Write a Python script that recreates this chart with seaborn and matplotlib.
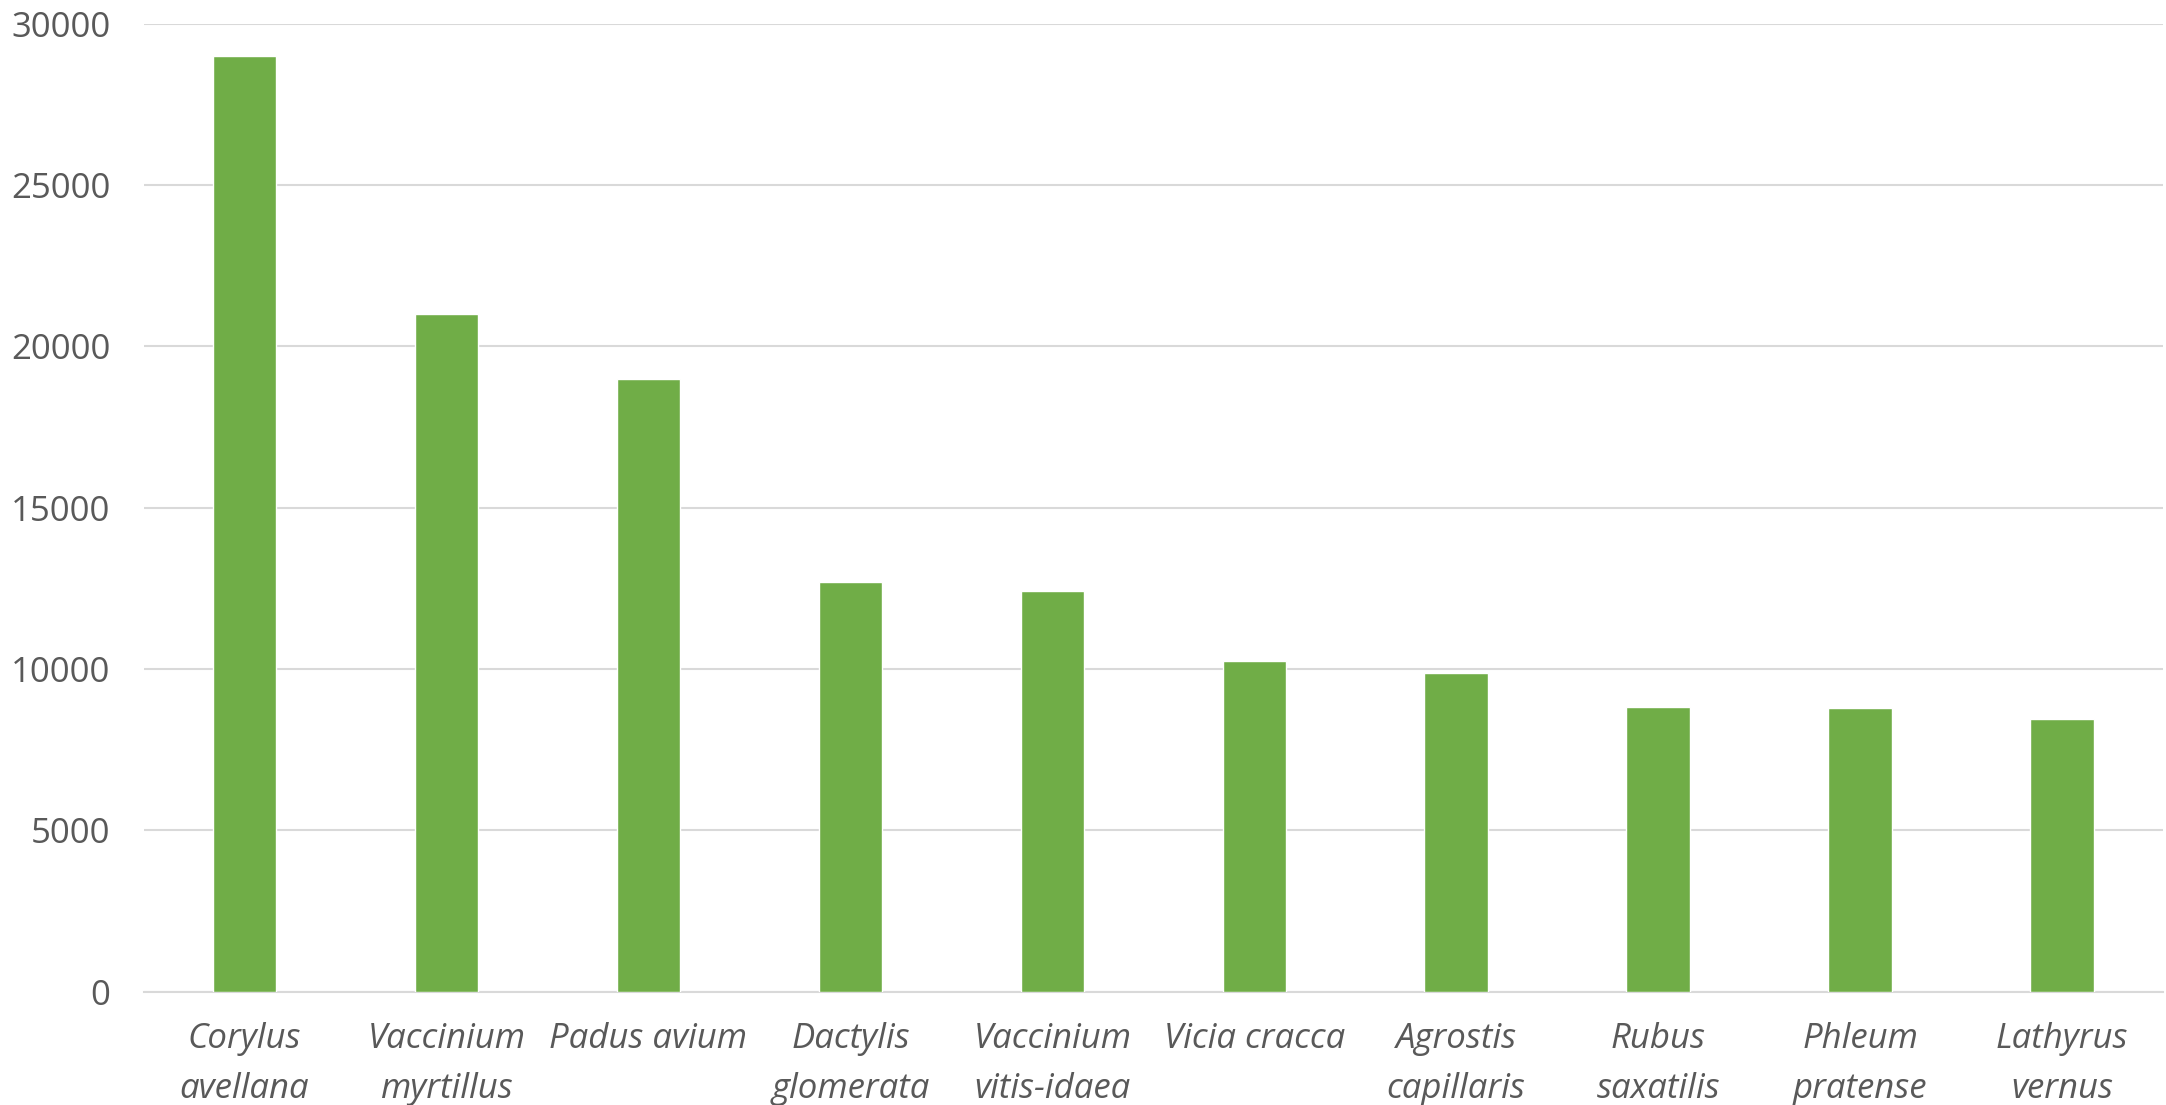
import matplotlib
matplotlib.use("Agg")
import matplotlib.pyplot as plt
import seaborn as sns
import pandas as pd

species = ["Corylus\navellana", "Vaccinium\nmyrtillus", "Padus avium", "Dactylis\nglomerata",
           "Vaccinium\nvitis-idaea", "Vicia cracca", "Agrostis\ncapillaris", "Rubus\nsaxatilis",
           "Phleum\npratense", "Lathyrus\nvernus"]
values = [29000, 21000, 19000, 12690, 12420, 10240, 9880, 8820, 8780, 8440]
yticks = [0, 5000, 10000, 15000, 20000, 25000, 30000]

sns.set_theme(style="white")
plt.rcParams['font.family'] = ['Open Sans', 'DejaVu Sans']

df = pd.DataFrame({"species": species, "value": values})

fig = plt.figure(figsize=(21.66, 11.05), dpi=100)
ax = fig.add_axes([0.0663, 0.1025, 0.9323, 0.8762])
sns.barplot(data=df, x="species", y="value", color="#70AD47", saturation=1,
            width=0.314, ax=ax, zorder=3)

ax.set_ylim(0, 30000)
ax.set_xlim(-0.5, len(species) - 0.5)
ax.set_yticks(yticks)
ax.set_yticklabels([str(v) for v in yticks])
ax.yaxis.grid(True, color="#d9d9d9", linewidth=1.5, zorder=0)
ax.set_axisbelow(True)
for s in ["left", "right", "top"]:
    ax.spines[s].set_visible(False)
ax.spines["bottom"].set_color("#d9d9d9")
ax.spines["bottom"].set_linewidth(1.5)
ax.set_xlabel("")
ax.set_ylabel("")
ax.tick_params(axis="y", length=0, pad=24, labelsize=25, labelcolor="#595959")
ax.tick_params(axis="x", length=0, pad=22, labelsize=25, labelcolor="#595959")
for lbl in ax.get_xticklabels():
    lbl.set_fontstyle("italic")
    lbl.set_linespacing(1.6)

fig.savefig("out.png", dpi=100, facecolor="white")
